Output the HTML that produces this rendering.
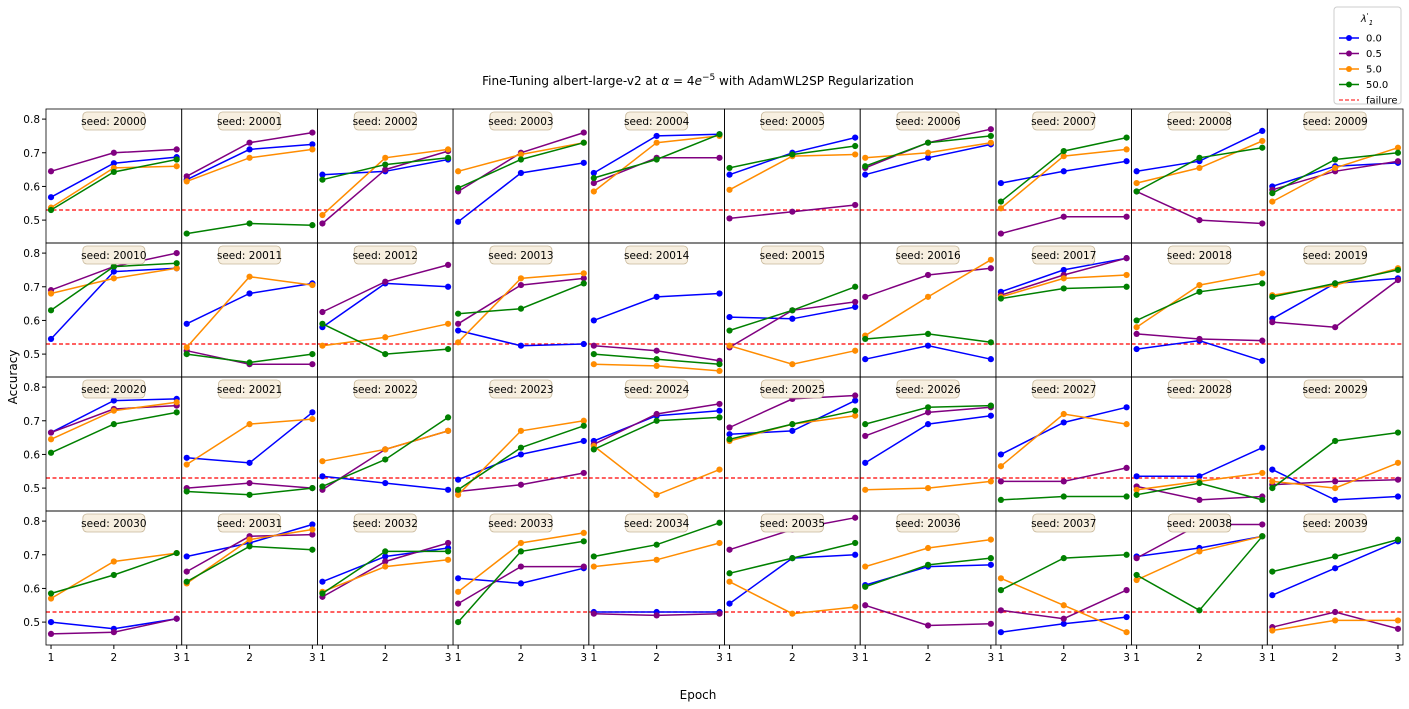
<!DOCTYPE html>
<html><head><meta charset="utf-8"><style>
body{margin:0;background:#fff;}
svg{display:block;font-family:"DejaVu Sans","Liberation Sans",sans-serif;}
</style></head><body>
<svg id="c" width="1409" height="709" xmlns="http://www.w3.org/2000/svg"></svg>
<script>
const epochs=[1,2,3];
const seeds=[];for(let i=0;i<40;i++)seeds.push(20000+i);
const lambdaLabels=["0.0","0.5","5.0","50.0"];
const colors=["#0000ff","#800080","#ff8c00","#008000"];
const failure=0.53;
const s00=[[0.568,0.669,0.687],[0.62,0.71,0.725],[0.635,0.645,0.68],[0.495,0.64,0.67],[0.64,0.75,0.755],[0.635,0.70,0.745],[0.635,0.685,0.725],[0.61,0.645,0.675],[0.645,0.675,0.765],[0.60,0.66,0.67],
[0.545,0.745,0.755],[0.59,0.68,0.71],[0.58,0.71,0.70],[0.57,0.525,0.53],[0.60,0.67,0.68],[0.61,0.605,0.64],[0.485,0.525,0.485],[0.685,0.75,0.785],[0.515,0.54,0.48],[0.605,0.71,0.725],
[0.665,0.76,0.765],[0.59,0.575,0.725],[0.535,0.515,0.495],[0.525,0.60,0.64],[0.64,0.715,0.73],[0.66,0.67,0.76],[0.575,0.69,0.715],[0.60,0.695,0.74],[0.535,0.535,0.62],[0.555,0.465,0.475],
[0.50,0.48,0.51],[0.695,0.735,0.79],[0.62,0.695,0.72],[0.63,0.615,0.66],[0.53,0.53,0.53],[0.555,0.69,0.70],[0.61,0.665,0.67],[0.47,0.495,0.515],[0.695,0.72,0.755],[0.58,0.66,0.74]];
const s05=[[0.645,0.70,0.71],[0.63,0.73,0.76],[0.49,0.65,0.705],[0.585,0.70,0.76],[0.61,0.685,0.685],[0.505,0.525,0.545],[0.655,0.73,0.77],[0.46,0.51,0.51],[0.585,0.50,0.49],[0.59,0.645,0.675],
[0.69,0.76,0.80],[0.51,0.47,0.47],[0.625,0.715,0.765],[0.59,0.705,0.725],[0.525,0.51,0.48],[0.52,0.63,0.655],[0.67,0.735,0.755],[0.675,0.735,0.785],[0.56,0.545,0.54],[0.595,0.58,0.72],
[0.665,0.735,0.745],[0.50,0.515,0.50],[0.495,0.615,0.67],[0.49,0.51,0.545],[0.63,0.72,0.75],[0.68,0.765,0.775],[0.655,0.725,0.74],[0.52,0.52,0.56],[0.505,0.465,0.475],[0.51,0.52,0.525],
[0.465,0.47,0.51],[0.65,0.755,0.76],[0.575,0.68,0.735],[0.555,0.665,0.665],[0.525,0.52,0.525],[0.715,0.775,0.81],[0.55,0.49,0.495],[0.535,0.51,0.595],[0.69,0.79,0.79],[0.485,0.53,0.48]];
const s50=[[0.537,0.655,0.66],[0.615,0.685,0.71],[0.515,0.685,0.71],[0.645,0.695,0.73],[0.585,0.73,0.75],[0.59,0.69,0.695],[0.685,0.70,0.73],[0.535,0.69,0.71],[0.61,0.655,0.735],[0.555,0.655,0.715],
[0.68,0.725,0.755],[0.52,0.73,0.705],[0.525,0.55,0.59],[0.535,0.725,0.74],[0.47,0.465,0.45],[0.525,0.47,0.51],[0.555,0.67,0.78],[0.67,0.725,0.735],[0.58,0.705,0.74],[0.675,0.705,0.755],
[0.645,0.73,0.755],[0.57,0.69,0.705],[0.58,0.615,0.67],[0.48,0.67,0.70],[0.625,0.48,0.555],[0.64,0.69,0.715],[0.495,0.50,0.52],[0.565,0.72,0.69],[0.495,0.52,0.545],[0.52,0.50,0.575],
[0.57,0.68,0.705],[0.615,0.745,0.775],[0.59,0.665,0.685],[0.59,0.735,0.765],[0.665,0.685,0.735],[0.62,0.525,0.545],[0.665,0.72,0.745],[0.63,0.55,0.47],[0.625,0.71,0.755],[0.475,0.505,0.505]];
const s500=[[0.53,0.643,0.68],[0.46,0.49,0.485],[0.62,0.665,0.685],[0.595,0.68,0.73],[0.625,0.68,0.755],[0.655,0.695,0.72],[0.66,0.73,0.75],[0.555,0.705,0.745],[0.585,0.685,0.715],[0.58,0.68,0.70],
[0.63,0.76,0.77],[0.50,0.475,0.50],[0.59,0.50,0.515],[0.62,0.635,0.71],[0.50,0.485,0.47],[0.57,0.63,0.70],[0.545,0.56,0.535],[0.665,0.695,0.70],[0.60,0.685,0.71],[0.67,0.71,0.75],
[0.605,0.69,0.725],[0.49,0.48,0.50],[0.505,0.585,0.71],[0.495,0.62,0.685],[0.615,0.70,0.71],[0.645,0.69,0.73],[0.69,0.74,0.745],[0.465,0.475,0.475],[0.48,0.515,0.465],[0.50,0.64,0.665],
[0.585,0.64,0.705],[0.62,0.725,0.715],[0.585,0.71,0.71],[0.50,0.71,0.74],[0.695,0.73,0.795],[0.645,0.69,0.735],[0.605,0.67,0.69],[0.595,0.69,0.70],[0.64,0.535,0.755],[0.65,0.695,0.745]];
const series=[s00,s05,s50,s500];
const yTicks=[0.5,0.6,0.7,0.8];

const svg=document.getElementById('c');
const NS="http://www.w3.org/2000/svg";
function mk(tag,attrs,parent){const e=document.createElementNS(NS,tag);for(const k in attrs)e.setAttribute(k,attrs[k]);(parent||svg).appendChild(e);return e;}
const L=46,R=1403,T=109,B=645,cols=10,rows=4;
const cw=(R-L)/cols,rh=(B-T)/rows;
const y0=0.432,y1=0.83,x0=0.92,x1=3.08;
function sx(c,v){return L+c*cw+(v-x0)/(x1-x0)*cw;}
function sy(r,v){return T+r*rh+(y1-v)/(y1-y0)*rh;}

for(let i=0;i<40;i++){
  const r=Math.floor(i/cols),c=i%cols;
  const g=mk('g',{});
  
  
  const fl=mk('line',{x1:L+c*cw,x2:L+(c+1)*cw,y1:sy(r,failure),y2:sy(r,failure),stroke:'#ff0000','stroke-width':1.2,'stroke-dasharray':'4,2.5'},g);
  
  
  for(let s=0;s<4;s++){
    const d=series[s][i];
    const pts=epochs.map((e,k)=>sx(c,e).toFixed(1)+','+sy(r,d[k]).toFixed(1)).join(' ');
    const pl=mk('polyline',{points:pts,fill:'none',stroke:colors[s],'stroke-width':1.5},g);
    
    
    epochs.forEach((e,k)=>{
      const p=mk('circle',{cx:sx(c,e),cy:sy(r,d[k]),r:3.1,fill:colors[s]},g);
      
      
    });
  }
  const fr=mk('rect',{x:L+c*cw,y:T+r*rh,width:cw,height:rh,fill:'none',stroke:'#000','stroke-width':0.8},g);
  
  
  const cx=L+c*cw+cw/2;
  const lb=mk('rect',{x:cx-31,y:T+r*rh+3,width:62,height:18,rx:4,fill:'#f7efe0',stroke:'#c8b89a','stroke-width':0.8},g);
  
  
  const lt=mk('text',{x:cx,y:T+r*rh+16,'text-anchor':'middle','font-size':10.5},g);
  lt.textContent='seed: '+seeds[i];
  
  
  if(c===0){
    yTicks.forEach(v=>{
      mk('line',{x1:L-4,x2:L,y1:sy(r,v),y2:sy(r,v),stroke:'#000'},g);
      const t=mk('text',{x:L-6,y:sy(r,v)+4,'text-anchor':'end','font-size':10.5},g);
      t.textContent=v.toFixed(1);
      
      
    });
  }
  if(r===rows-1){
    epochs.forEach(e=>{
      mk('line',{x1:sx(c,e),x2:sx(c,e),y1:B,y2:B+4,stroke:'#000'},g);
      const t=mk('text',{x:sx(c,e),y:B+16,'text-anchor':'middle','font-size':10.5},g);
      t.textContent=e;
      
      
    });
  }
}
const ti=mk('text',{x:698,y:85,'text-anchor':'middle','font-size':12});
ti.innerHTML='Fine-Tuning albert-large-v2 at <tspan font-style="italic">α</tspan> = 4<tspan font-style="italic">e</tspan><tspan dy="-5" font-size="9">−5</tspan><tspan dy="5"> with AdamWL2SP Regularization</tspan>';


const xl=mk('text',{x:698,y:699,'text-anchor':'middle','font-size':12});
xl.textContent='Epoch';


const yl=mk('text',{x:17,y:377,'text-anchor':'middle','font-size':12,transform:'rotate(-90 17 377)'});
yl.textContent='Accuracy';


const lg=mk('g',{});


mk('rect',{x:1334,y:7,width:67,height:97,rx:3,fill:'#fff',stroke:'#ccc'},lg);
const lgt=mk('text',{x:1367,y:22,'text-anchor':'middle','font-size':10,'font-style':'italic'},lg);
lgt.innerHTML='λ<tspan dy="-4" font-size="7">\'</tspan><tspan dy="7" font-size="7">1</tspan>';
const labs=lambdaLabels.concat(['failure']);
labs.forEach((t,k)=>{
  const y=38+k*15.5;
  const e=mk('g',{},lg);
  
  
  if(k<4){
    mk('line',{x1:1339,x2:1359,y1:y,y2:y,stroke:colors[k],'stroke-width':1.5},e);
    mk('circle',{cx:1349,cy:y,r:3,fill:colors[k]},e);
  } else {
    mk('line',{x1:1339,x2:1359,y1:y,y2:y,stroke:'#ff0000','stroke-width':1,'stroke-dasharray':'4,2'},e);
  }
  const tx=mk('text',{x:1366,y:y+3.5,'font-size':10},e);
  tx.textContent=t;
});
</script>
</body></html>
